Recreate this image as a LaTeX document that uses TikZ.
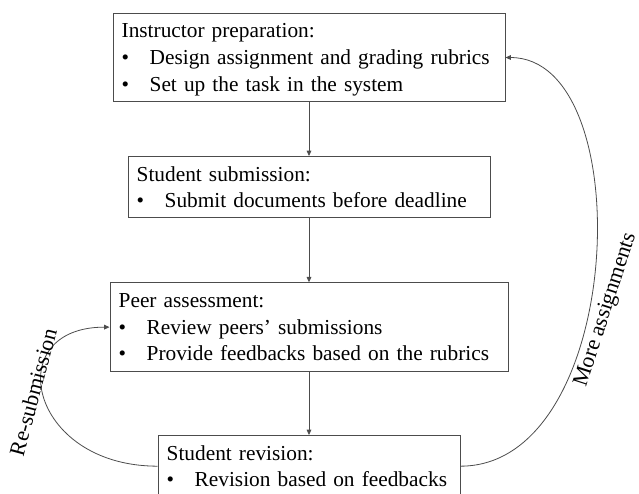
\documentclass[tikz,border=0pt]{standalone}
\usepackage{fontspec}
\setmainfont{Liberation Serif}
\usetikzlibrary{positioning}
\usetikzlibrary{arrows.meta}

\newcommand{\bitem}[1]{\makebox[21pt][l]{\textbullet}#1}

\tikzset{
    stepbox/.style={draw=black!70, line width=0.75pt, anchor=north, align=left,
        inner xsep=6.5pt, inner ysep=0pt, text height=18.5pt,
        font=\fontsize{16}{20}\selectfont},
    threeline/.style={stepbox, text depth=48pt},
    twoline/.style={stepbox, text depth=27.5pt},
    flow/.style={draw=black!70, line width=0.6pt, -{Triangle[length=4pt,width=3.5pt]}},
    loopname/.style={font=\fontsize{16.5}{20}\selectfont, inner sep=0pt}
}

\begin{document}
\begin{tikzpicture}[x=0.75pt, y=-0.75pt]
    \useasboundingbox (0,0) rectangle (639,493);

    \node[threeline, text width=281pt] (prep) at (309,12.7)
        {Instructor preparation:\\ \bitem{Design assignment and grading rubrics}\\ \bitem{Set up the task in the system}};
    \node[twoline, text width=258.5pt] (submit) at (309,156)
        {Student submission:\\ \bitem{Submit documents before deadline}};
    \node[threeline, text width=285.5pt] (peer) at (309,282.3)
        {Peer assessment:\\ \bitem{Review peers' submissions}\\ \bitem{Provide feedbacks based on the rubrics}};
    \node[twoline, text width=213.5pt] (revise) at (309,435)
        {Student revision:\\ \bitem{Revision based on feedbacks}};

    \draw[flow] (prep) -- (submit);
    \draw[flow] (submit) -- (peer);
    \draw[flow] (peer) -- (revise);

    % loops back up
    \draw[flow] (revise.west) .. controls +(-129,0) and +(-110,0) .. (peer.west);
    \draw[flow] (revise.east) .. controls +(165,0) and +(135,0) .. (prep.east);

    \node[loopname, rotate=75] (resub) at (33,392) {Re-submission};
    \node[loopname, rotate=72] (more) at (606,310) {More assignments};
\end{tikzpicture}
\end{document}
